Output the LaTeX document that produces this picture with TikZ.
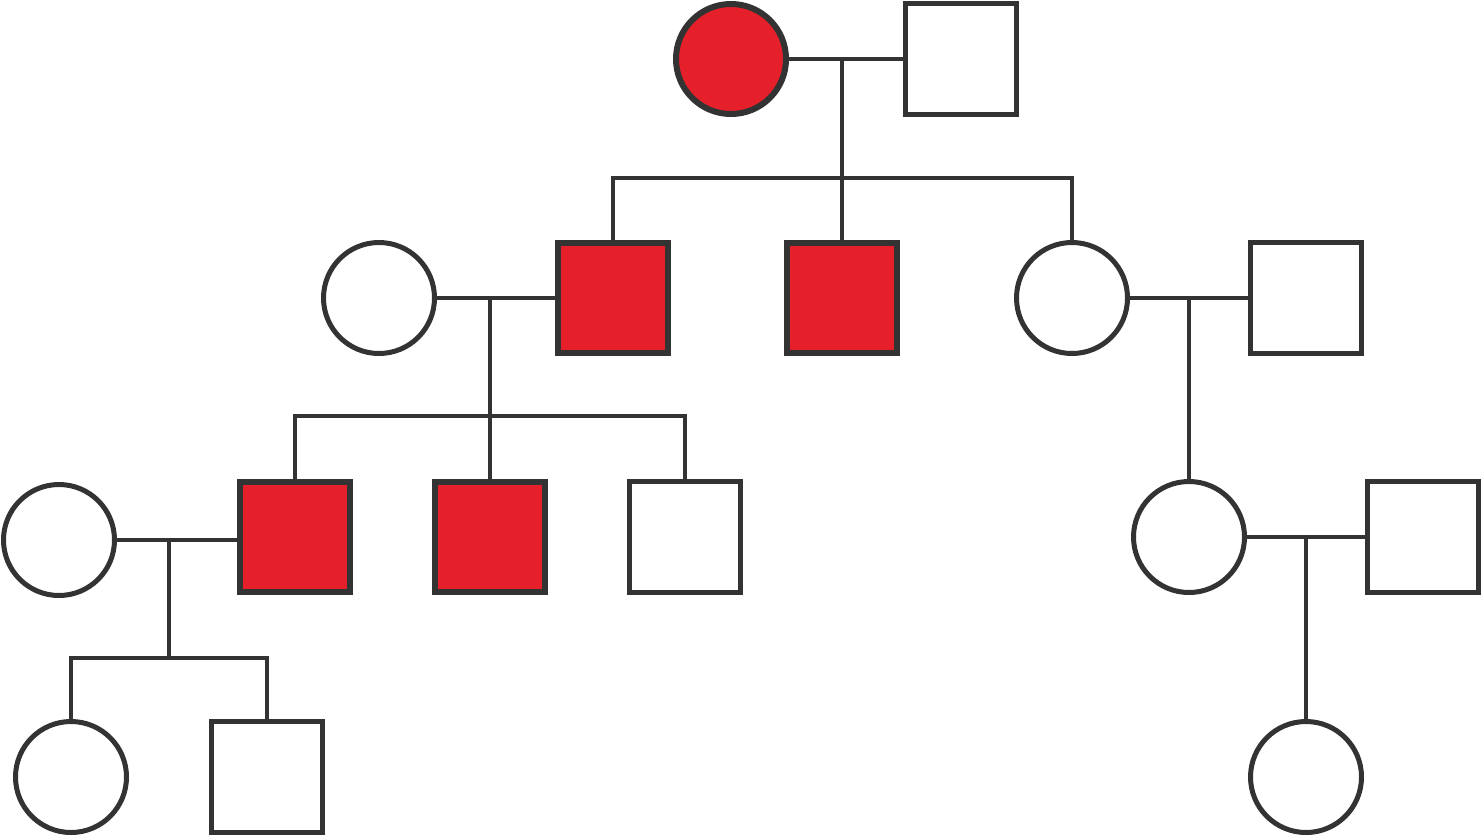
\documentclass[tikz,border=0pt]{standalone}
\begin{document}
\begin{tikzpicture}[x=0.5pt,y=-0.5pt,
  ink/.style={draw=inkc},
  aff/.style={ink,fill=redc,line width=3pt,inner sep=0pt,minimum size=55pt},
  unaff/.style={ink,fill=white,line width=2.5pt,inner sep=0pt,minimum size=55.5pt},
  circ/.style={circle},
  sq/.style={rectangle},
  link/.style={draw=inkc,line width=2.3pt}]
\definecolor{inkc}{HTML}{333333}
\definecolor{redc}{HTML}{E5202B}
\useasboundingbox (0,0) rectangle (1482,836);
% generation I
\node[aff,circ] (I1) at (731,59) {};
\node[unaff,sq] (I2) at (961,59) {};
% generation II
\node[unaff,circ] (II1) at (379,298) {};
\node[aff,sq] (II2) at (613,298) {};
\node[aff,sq] (II3) at (842,298) {};
\node[unaff,circ] (II4) at (1072,298) {};
\node[unaff,sq] (II5) at (1306,298) {};
% generation III
\node[unaff,circ] (III1) at (59,540) {};
\node[aff,sq] (III2) at (295,537) {};
\node[aff,sq] (III3) at (490,537) {};
\node[unaff,sq] (III4) at (685,537) {};
\node[unaff,circ] (III5) at (1189,537) {};
\node[unaff,sq] (III6) at (1423,537) {};
% generation IV
\node[unaff,circ] (IV1) at (71,777) {};
\node[unaff,sq] (IV2) at (267,777) {};
\node[unaff,circ] (IV3) at (1306,777) {};
% coordinates
\coordinate (u1) at (842,59);  \coordinate (s1) at (842,178);
\coordinate (u2) at (490,298); \coordinate (s2) at (490,416);
\coordinate (u3) at (1189,298);
\coordinate (u4) at (169,540); \coordinate (s4) at (169,658);
\coordinate (u5) at (1306,538);
% marriages
\draw[link] (I1) -- (I2);
\draw[link] (II1) -- (II2);
\draw[link] (II4) -- (II5);
\draw[link] (III1) -- (III2.west |- u4);
\draw[link] (III5) -- (III6);
% descent
\draw[link] (u1) -- (s1);
\draw[link,line cap=rect] (II2.north) |- (s1) -| (II4.north);
\draw[link] (s1) -- (II3.north);
\draw[link] (u2) -- (s2);
\draw[link] (III2.north) |- (s2) -| (III4.north);
\draw[link] (s2) -- (III3.north);
\draw[link] (u3) -- (III5.north);
\draw[link] (u4) -- (s4);
\draw[link] (IV1.north) |- (s4) -| (IV2.north);
\draw[link] (u5) -- (IV3.north);
\end{tikzpicture}
\end{document}
